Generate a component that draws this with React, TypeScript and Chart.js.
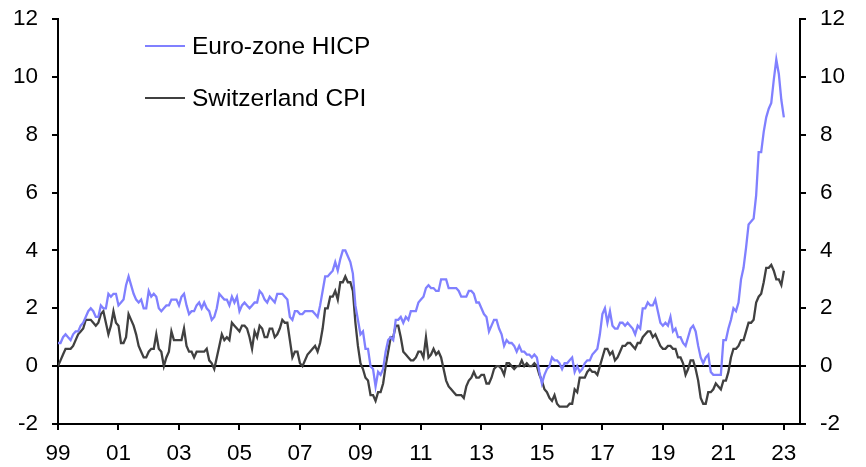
import React, { useEffect, useRef } from "react";
import { Chart, registerables } from "chart.js";

Chart.register(...registerables);

// Monthly annual inflation rates, %, Jan 1999 - Jan 2023
const euroZoneHicp = [
  0.8, 0.8, 1.0, 1.1, 1.0, 0.9, 1.1, 1.2, 1.2, 1.4, 1.5, 1.7,
  1.9, 2.0, 1.9, 1.7, 1.7, 2.1, 2.0, 2.0, 2.5, 2.4, 2.5, 2.5,
  2.1, 2.2, 2.3, 2.8, 3.1, 2.8, 2.5, 2.3, 2.2, 2.3, 2.0, 2.0,
  2.6, 2.4, 2.5, 2.4, 2.0, 1.9, 2.0, 2.1, 2.1, 2.3, 2.3, 2.3,
  2.1, 2.4, 2.5, 2.1, 1.8, 1.9, 1.9, 2.1, 2.2, 2.0, 2.2, 2.0,
  1.9, 1.6, 1.7, 2.0, 2.5, 2.4, 2.3, 2.3, 2.1, 2.4, 2.2, 2.4,
  1.9, 2.1, 2.2, 2.1, 2.0, 2.1, 2.2, 2.2, 2.6, 2.5, 2.3, 2.2,
  2.4, 2.3, 2.2, 2.5, 2.5, 2.5, 2.4, 2.3, 1.7, 1.6, 1.9, 1.9,
  1.8, 1.8, 1.9, 1.9, 1.9, 1.9, 1.8, 1.7, 2.1, 2.6, 3.1, 3.1,
  3.2, 3.3, 3.6, 3.3, 3.7, 4.0, 4.0, 3.8, 3.6, 3.2, 2.1, 1.6,
  1.1, 1.2, 0.6, 0.6, 0.0, -0.1, -0.7, -0.2, -0.3, -0.1, 0.5, 0.9,
  1.0, 0.9, 1.6, 1.6, 1.7, 1.5, 1.7, 1.6, 1.9, 1.9, 1.9, 2.2,
  2.3, 2.4, 2.7, 2.8, 2.7, 2.7, 2.6, 2.6, 3.0, 3.0, 3.0, 2.7,
  2.7, 2.7, 2.7, 2.6, 2.4, 2.4, 2.4, 2.6, 2.6, 2.5, 2.2, 2.2,
  2.0, 1.8, 1.7, 1.2, 1.4, 1.6, 1.6, 1.3, 1.1, 0.7, 0.9, 0.8,
  0.8, 0.7, 0.5, 0.7, 0.5, 0.5, 0.4, 0.4, 0.3, 0.4, 0.3, -0.2,
  -0.6, -0.3, -0.1, 0.0, 0.3, 0.2, 0.2, 0.1, -0.1, 0.1, 0.1, 0.2,
  0.3, -0.2, 0.0, -0.2, -0.1, 0.1, 0.2, 0.2, 0.4, 0.5, 0.6, 1.1,
  1.8, 2.0, 1.5, 1.9, 1.4, 1.3, 1.3, 1.5, 1.5, 1.4, 1.5, 1.4,
  1.3, 1.1, 1.4, 1.3, 2.0, 2.0, 2.2, 2.1, 2.1, 2.3, 1.9, 1.5,
  1.4, 1.5, 1.4, 1.7, 1.2, 1.3, 1.0, 1.0, 0.8, 0.7, 1.0, 1.3,
  1.4, 1.2, 0.7, 0.3, 0.1, 0.3, 0.4, -0.2, -0.3, -0.3, -0.3, -0.3,
  0.9, 0.9, 1.3, 1.6, 2.0, 1.9, 2.2, 3.0, 3.4, 4.1, 4.9, 5.0,
  5.1, 5.9, 7.4, 7.4, 8.1, 8.6, 8.9, 9.1, 9.9, 10.6, 10.1, 9.2,
  8.6,
];

const switzerlandCpi = [
  0.0, 0.2, 0.4, 0.6, 0.6, 0.6, 0.7, 0.9, 1.1, 1.2, 1.3, 1.6,
  1.6, 1.6, 1.5, 1.4, 1.5, 1.8, 1.9, 1.5, 1.1, 1.4, 1.9, 1.5,
  1.4, 0.8, 0.8, 1.0, 1.8, 1.6, 1.4, 1.1, 0.7, 0.5, 0.3, 0.3,
  0.5, 0.6, 0.6, 1.1, 0.6, 0.5, 0.0, 0.3, 0.5, 1.2, 0.9, 0.9,
  0.9, 0.9, 1.3, 0.7, 0.5, 0.5, 0.3, 0.5, 0.5, 0.5, 0.5, 0.6,
  0.2, 0.1, -0.1, 0.3, 0.7, 1.1, 0.9, 1.0, 0.9, 1.5, 1.4, 1.3,
  1.2, 1.4, 1.4, 1.3, 1.0, 0.6, 1.2, 1.0, 1.4, 1.3, 1.0, 1.0,
  1.3, 1.3, 1.0, 1.1, 1.3, 1.6, 1.5, 1.5, 0.9, 0.3, 0.5, 0.5,
  0.1, 0.0, 0.2, 0.4, 0.5, 0.6, 0.7, 0.5, 0.8, 1.3, 2.0, 2.0,
  2.4, 2.4, 2.6, 2.3, 2.9, 2.9, 3.1, 2.9, 2.9, 2.6, 1.5, 0.7,
  0.1, -0.1, -0.4, -0.5, -1.0, -1.0, -1.2, -0.9, -0.9, -0.6, 0.0, 0.5,
  1.0, 1.0, 1.4, 1.4, 1.0, 0.5, 0.4, 0.3, 0.2, 0.2, 0.3, 0.5,
  0.5, 0.3, 1.0, 0.3, 0.4, 0.6, 0.4, 0.5, 0.3, -0.1, -0.5, -0.7,
  -0.8, -0.9, -1.0, -1.0, -1.0, -1.1, -0.7, -0.5, -0.4, -0.2, -0.4, -0.4,
  -0.3, -0.3, -0.6, -0.6, -0.4, -0.1, 0.0, 0.0, -0.1, -0.3, 0.1, 0.1,
  0.0, -0.1, 0.0, 0.0, 0.2, 0.0, 0.1, 0.0, 0.0, 0.1, 0.0, -0.3,
  -0.5, -0.8, -0.9, -1.1, -1.2, -1.0, -1.3, -1.4, -1.4, -1.4, -1.4, -1.3,
  -1.3, -0.8, -0.9, -0.4, -0.4, -0.4, -0.2, -0.1, -0.2, -0.2, -0.3, 0.0,
  0.3, 0.6, 0.6, 0.4, 0.5, 0.2, 0.3, 0.5, 0.7, 0.7, 0.8, 0.8,
  0.7, 0.6, 0.8, 0.8, 1.0, 1.1, 1.2, 1.2, 1.0, 1.1, 0.9, 0.7,
  0.6, 0.6, 0.7, 0.7, 0.6, 0.6, 0.3, 0.3, 0.1, -0.3, -0.1, 0.2,
  0.2, -0.1, -0.5, -1.1, -1.3, -1.3, -0.9, -0.9, -0.8, -0.6, -0.7, -0.8,
  -0.5, -0.5, -0.2, 0.3, 0.6, 0.6, 0.7, 0.9, 0.9, 1.2, 1.5, 1.5,
  1.6, 2.2, 2.4, 2.5, 2.9, 3.4, 3.4, 3.5, 3.3, 3.0, 3.0, 2.8,
  3.3,
];

const yearTickLabels = ["99", "01", "03", "05", "07", "09", "11", "13", "15", "17", "19", "21", "23"];
const monthsPerTick = 24;
const xAxisEndMonth = 294.4;

const FONT = "'Liberation Sans', Arial, sans-serif";

const legendPlugin = {
  id: "insideLegend",
  afterDraw(chart: any) {
    const ctx = chart.ctx;
    const rows = [46, 98];
    ctx.save();
    chart.data.datasets.forEach((ds: any, i: number) => {
      const y = rows[i];
      ctx.strokeStyle = ds.borderColor;
      ctx.lineWidth = 2;
      ctx.beginPath();
      ctx.moveTo(145, y);
      ctx.lineTo(185, y);
      ctx.stroke();
      ctx.fillStyle = "#000";
      ctx.font = `24.5px ${FONT}`;
      ctx.textBaseline = "middle";
      ctx.textAlign = "left";
      ctx.fillText(ds.label, 192, y + 1);
    });
    ctx.restore();
  },
};

export default function App() {
  const ref = useRef<HTMLCanvasElement | null>(null);

  useEffect(() => {
    document.body.style.margin = "0";
    const canvas = ref.current;
    if (!canvas) return;
    const toPoints = (arr: number[]) => arr.map((v, i) => ({ x: i, y: v }));
    const yTicks = {
      color: "#000",
      font: { family: FONT, size: 22.5 },
      stepSize: 2,
      padding: 14,
    };
    const fitVertical = (width: number) => (scale: any) => {
      scale.width = width;
      scale.paddingTop = 0;
      scale.paddingBottom = 0;
    };
    const chart = new Chart(canvas, {
      type: "line",
      data: {
        datasets: [
          {
            label: "Euro-zone HICP",
            data: toPoints(euroZoneHicp),
            borderColor: "#8080ff",
            borderWidth: 2.3,
            pointRadius: 0,
            tension: 0,
            yAxisID: "y",
          },
          {
            label: "Switzerland CPI",
            data: toPoints(switzerlandCpi),
            borderColor: "#404040",
            borderWidth: 2.3,
            pointRadius: 0,
            tension: 0,
            yAxisID: "y",
          },
        ],
      },
      options: {
        animation: false,
        responsive: false,
        devicePixelRatio: 1,
        layout: { padding: { top: 19, left: 0, right: 0, bottom: 0 } },
        plugins: { legend: { display: false }, tooltip: { enabled: false } },
        scales: {
          x: {
            type: "linear",
            min: 0,
            max: xAxisEndMonth,
            afterBuildTicks: (scale: any) => {
              scale.ticks = yearTickLabels.map((_, i) => ({ value: i * monthsPerTick }));
            },
            afterFit: (scale: any) => {
              scale.height = 43;
            },
            ticks: {
              autoSkip: false,
              maxRotation: 0,
              color: "#000",
              font: { family: FONT, size: 22.5 },
              padding: 10,
              callback: (_v: any, index: number) => yearTickLabels[index],
            },
            grid: {
              display: true,
              drawOnChartArea: false,
              drawTicks: true,
              tickLength: 6,
              color: "#000",
              lineWidth: 2,
            },
            border: { display: true, color: "#000", width: 2 },
          },
          y: {
            position: "left",
            min: -2,
            max: 12,
            afterFit: fitVertical(58),
            ticks: yTicks,
            grid: {
              drawOnChartArea: true,
              drawTicks: true,
              tickLength: 6,
              lineWidth: 2,
              color: (c: any) => (c.tick && c.tick.value === 0 ? "#000" : "rgba(0,0,0,0)"),
              tickColor: "#000",
            },
            border: { display: true, color: "#000", width: 2 },
          },
          y1: {
            position: "right",
            min: -2,
            max: 12,
            afterFit: fitVertical(66),
            ticks: yTicks,
            grid: {
              drawOnChartArea: false,
              drawTicks: true,
              tickLength: 6,
              lineWidth: 2,
              color: "#000",
              tickColor: "#000",
            },
            border: { display: true, color: "#000", width: 2 },
          },
        },
      },
      plugins: [legendPlugin],
    } as any);
    return () => chart.destroy();
  }, []);

  return (
    <div style={{ position: "absolute", left: 0, top: 0, width: 866, height: 467, background: "#fff" }}>
      <canvas ref={ref} width={866} height={467} style={{ width: 866, height: 467, display: "block" }} />
    </div>
  );
}
